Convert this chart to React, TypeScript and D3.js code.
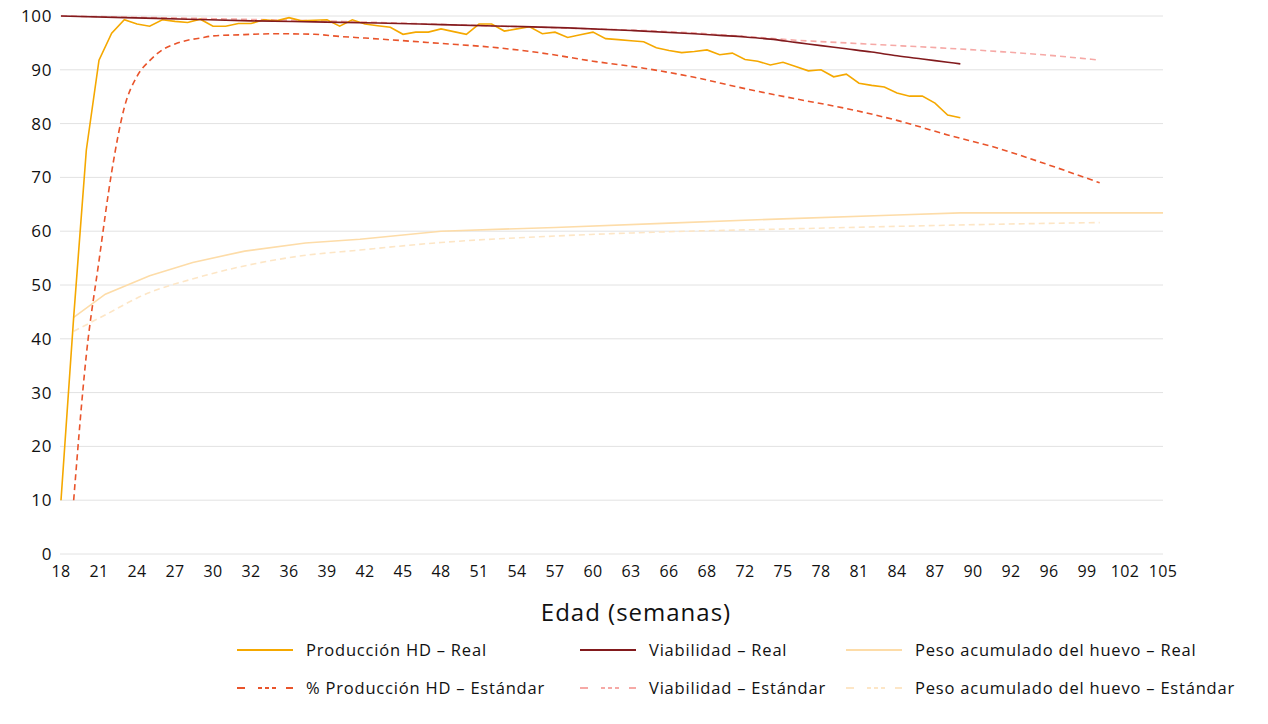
import * as d3 from "d3";

// eje X: semanas de edad, etiquetas tal como aparecen
const tickLabels = ["18", "21", "24", "27", "30", "32", "36", "39", "42", "45", "48", "51", "54", "57", "60", "63", "66", "68", "72", "75", "78", "81", "84", "87", "90", "92", "96", "99", "102", "105"];
const yTicks = [0, 10, 20, 30, 40, 50, 60, 70, 80, 90, 100];

// Producción HD – Real (semanal desde la semana 18)
const inicioReal = 18;
const produccionReal = [
  10, 44, 75.1, 91.8, 96.8, 99.3, 98.5, 98.1, 99.3, 99.0,
  98.8, 99.4, 98.1, 98.1, 98.6, 98.6, 99.3, 99.1, 99.7, 99.1,
  99.2, 99.3, 98.1, 99.3, 98.5, 98.2, 97.9, 96.6, 97.0, 97.0,
  97.6, 97.1, 96.6, 98.5, 98.5, 97.2, 97.6, 98.0, 96.7, 97.0,
  96.0, 96.5, 97.0, 95.8, 95.6, 95.4, 95.2, 94.1, 93.6, 93.2,
  93.4, 93.7, 92.8, 93.1, 91.9, 91.6, 90.9, 91.4, 90.6, 89.8,
  90.0, 88.7, 89.2, 87.5, 87.1, 86.8, 85.7, 85.1, 85.1, 83.8,
  81.6, 81.1,
];

// Viabilidad – Real
const semanasViabReal = [18, 23, 28, 33, 38, 43, 48, 53, 58, 63, 68, 70, 72, 74, 76, 78, 80, 82, 84, 86, 88, 89];
const viabilidadReal = [100, 99.7, 99.4, 99.1, 98.9, 98.7, 98.4, 98.1, 97.8, 97.3, 96.7, 96.4, 96.1, 95.7, 95.1, 94.5, 93.9, 93.3, 92.6, 92.0, 91.4, 91.1];

// Peso acumulado del huevo – Real
const semanasPesoReal = [19, 21.5, 25, 28.4, 32.5, 37.3, 41.6, 48, 57, 66, 75, 84, 89, 105];
const pesoReal = [44.0, 48.3, 51.7, 54.2, 56.3, 57.8, 58.5, 60.0, 60.7, 61.5, 62.3, 63.0, 63.4, 63.4];

// % Producción HD – Estándar
const semanasProdStd = [19, 20, 21, 22, 23, 24, 25, 26, 27, 28, 29, 30, 32, 35, 38, 40, 42, 48, 52, 56, 60, 64, 68, 72, 76, 80, 84, 88, 92, 96, 100];
const produccionStd = [10, 37, 54.5, 71, 83, 88.8, 91.7, 93.7, 94.8, 95.5, 95.9, 96.3, 96.5, 96.7, 96.6, 96.2, 95.9, 94.9, 94.2, 93.1, 91.6, 90.3, 88.6, 86.5, 84.6, 82.8, 80.6, 77.9, 75.4, 72.3, 69.0];

// Viabilidad – Estándar
const semanasViabStd = [18, 30, 40, 50, 60, 66, 72, 76, 80, 84, 88, 92, 96, 100];
const viabilidadStd = [100, 99.5, 99.0, 98.3, 97.6, 97.1, 96.2, 95.5, 95.0, 94.5, 94.0, 93.4, 92.7, 91.8];

// Peso acumulado del huevo – Estándar
const semanasPesoStd = [19, 21.7, 24.2, 28.8, 32, 36.6, 41.6, 48, 57, 66, 75, 84, 92, 100];
const pesoStd = [41.4, 44.7, 47.8, 51.4, 53.3, 55.3, 56.5, 57.9, 59.1, 59.9, 60.4, 60.9, 61.3, 61.6];

type Pt = [number, number];
const zipPts = (w: number[], v: number[]): Pt[] => w.map((s, i) => [s, v[i]]);

const series = [
  { name: "Peso acumulado del huevo – Estándar", pts: zipPts(semanasPesoStd, pesoStd), color: "#FDE6C6", dash: true, smooth: true },
  { name: "Peso acumulado del huevo – Real", pts: zipPts(semanasPesoReal, pesoReal), color: "#FDDCA8", dash: false, smooth: false },
  { name: "Viabilidad – Estándar", pts: zipPts(semanasViabStd, viabilidadStd), color: "#F6A9A6", dash: true, smooth: true },
  { name: "% Producción HD – Estándar", pts: zipPts(semanasProdStd, produccionStd), color: "#E9542B", dash: true, smooth: true },
  { name: "Producción HD – Real", pts: produccionReal.map((v, i) => [inicioReal + i, v] as Pt), color: "#F5A800", dash: false, smooth: false },
  { name: "Viabilidad – Real", pts: zipPts(semanasViabReal, viabilidadReal), color: "#821A1D", dash: false, smooth: true },
];

const legendRows = [
  ["Producción HD – Real", "Viabilidad – Real", "Peso acumulado del huevo – Real"],
  ["% Producción HD – Estándar", "Viabilidad – Estándar", "Peso acumulado del huevo – Estándar"],
];

const W = 1268;
const H = 724;
const font = "'Open Sans', 'DejaVu Sans', sans-serif";

export default function App() {
  const x = d3.scaleLinear().domain([18, 105]).range([61, 1163]);
  const y = d3.scaleLinear().domain([0, 100]).range([554, 16]);

  const lineLinear = d3.line<Pt>().x((d) => x(d[0])).y((d) => y(d[1]));
  const lineSmooth = d3.line<Pt>().x((d) => x(d[0])).y((d) => y(d[1])).curve(d3.curveMonotoneX);

  const legendX = [237, 580, 846];
  const legendY = [650, 688];

  return (
    <svg width={W} height={H} style={{ position: "absolute", left: 0, top: 0, background: "#fff" }} fontFamily={font}>
      {yTicks.map((t) => (
        <g key={t}>
          <line x1={60} x2={1163} y1={y(t)} y2={y(t)} stroke="#e2e2e2" strokeWidth={1} />
          <text x={52} y={y(t)} dy="0.35em" textAnchor="end" fontSize={17} letterSpacing={0.6} fill="#111">
            {t}
          </text>
        </g>
      ))}
      {tickLabels.map((l, i) => (
        <text key={l} x={x(18 + i * 3)} y={571} dy="0.35em" textAnchor="middle" fontSize={16} letterSpacing={0.3} fill="#111">
          {l}
        </text>
      ))}
      <text x={636} y={613} dy="0.35em" textAnchor="middle" fontSize={24} letterSpacing={1} fill="#111">
        Edad (semanas)
      </text>

      {series.map((s) => (
        <path
          key={s.name}
          d={(s.smooth ? lineSmooth : lineLinear)(s.pts) || ""}
          fill="none"
          stroke={s.color}
          strokeWidth={1.6}
          strokeDasharray={s.dash ? "6 4" : undefined}
        />
      ))}

      {legendRows.map((row, r) =>
        row.map((name, c) => {
          const s = series.find((d) => d.name === name)!;
          const lx = legendX[c];
          const ly = legendY[r];
          return (
            <g key={name}>
              <line
                x1={lx}
                x2={lx + 56}
                y1={ly}
                y2={ly}
                stroke={s.color}
                strokeWidth={1.8}
                strokeDasharray={s.dash ? "8 13 4 3 4 3 4 10 7 100" : undefined}
              />
              <text x={lx + 69} y={ly} dy="0.35em" fontSize={16.5} letterSpacing={0.8} fill="#111">
                {name}
              </text>
            </g>
          );
        })
      )}
    </svg>
  );
}
